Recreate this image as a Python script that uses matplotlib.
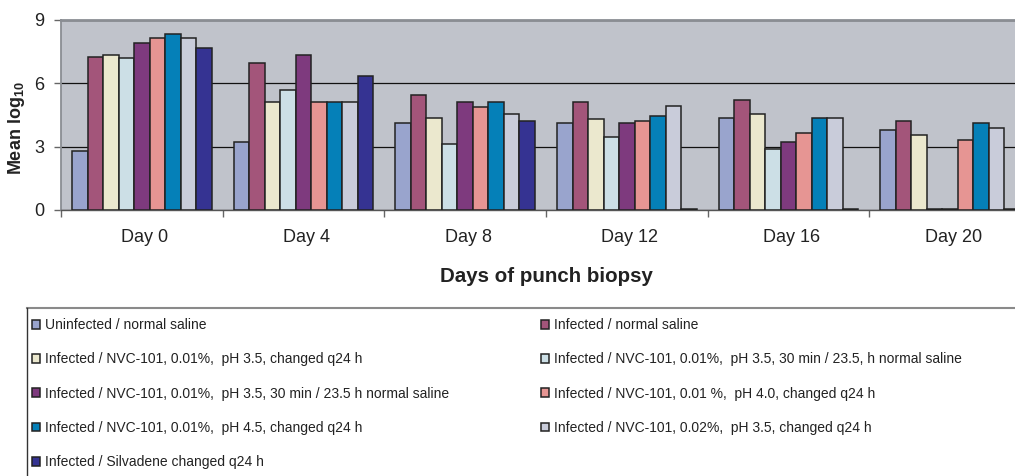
import matplotlib
matplotlib.use('Agg')
import matplotlib.pyplot as plt
import matplotlib.transforms as mtransforms
import numpy as np
from matplotlib.lines import Line2D

plt.rcParams['font.family'] = ['Liberation Sans', 'DejaVu Sans']
plt.rcParams['mathtext.fontset'] = 'custom'
plt.rcParams['mathtext.rm'] = 'Liberation Sans'
plt.rcParams['mathtext.bf'] = 'Liberation Sans:bold'

# ---------------- data ----------------
days = ['Day 0', 'Day 4', 'Day 8', 'Day 12', 'Day 16', 'Day 20']
series_labels = [
    'Uninfected / normal saline',
    'Infected / normal saline',
    'Infected / NVC-101, 0.01%,  pH 3.5, changed q24 h',
    'Infected / NVC-101, 0.01%,  pH 3.5, 30 min / 23.5, h normal saline',
    'Infected / NVC-101, 0.01%,  pH 3.5, 30 min / 23.5 h normal saline',
    'Infected / NVC-101, 0.01 %,  pH 4.0, changed q24 h',
    'Infected / NVC-101, 0.01%,  pH 4.5, changed q24 h',
    'Infected / NVC-101, 0.02%,  pH 3.5, changed q24 h',
    'Infected / Silvadene changed q24 h',
]
uninfected_saline = [2.80, 3.20, 4.12, 4.12, 4.37, 3.79]
infected_saline = [7.26, 6.94, 5.44, 5.10, 5.21, 4.20]
nvc_001_ph35_q24 = [7.34, 5.10, 4.37, 4.29, 4.53, 3.55]
nvc_001_ph35_30min_a = [7.18, 5.69, 3.14, 3.47, 2.88, 0.05]
nvc_001_ph35_30min_b = [7.92, 7.34, 5.10, 4.12, 3.20, 0.05]
nvc_001_ph40_q24 = [8.16, 5.10, 4.88, 4.20, 3.63, 3.30]
nvc_001_ph45_q24 = [8.34, 5.10, 5.10, 4.45, 4.37, 4.12]
nvc_002_ph35_q24 = [8.16, 5.10, 4.55, 4.94, 4.37, 3.88]
silvadene_q24 = [7.69, 6.35, 4.20, 0.05, 0.05, 0.05]
yticks = [0, 3, 6, 9]

series = [uninfected_saline, infected_saline, nvc_001_ph35_q24,
          nvc_001_ph35_30min_a, nvc_001_ph35_30min_b, nvc_001_ph40_q24,
          nvc_001_ph45_q24, nvc_002_ph35_q24, silvadene_q24]
colors = ['#99A4CD', '#A3557A', '#EBE8CE', '#CCDFE6', '#7E3A7E',
          '#E69593', '#0580B8', '#C9CCDA', '#353392']

# ---------------- figure ----------------
W, H = 1015, 476
fig = plt.figure(figsize=(W / 100, H / 100), dpi=100)
fig.patch.set_facecolor('white')

ax = fig.add_axes([61 / W, 1 - 210 / H, 970 / W, 190 / H])
ax.set_facecolor('#C0C3CB')
ax.set_xlim(-0.5, len(days) - 0.5)
ax.set_ylim(0, 9)

x = np.arange(len(days))
bw = 0.096
n = len(series)
containers = []
for j, (vals, col) in enumerate(zip(series, colors)):
    c = ax.bar(x + (j - (n - 1) / 2) * bw, vals, width=bw, color=col,
               edgecolor='#222222', linewidth=1.1, label=series_labels[j],
               zorder=3)
    containers.append(c)

ax.set_yticks(yticks)
ax.set_yticklabels([str(t) for t in yticks])
ax.yaxis.grid(True, color='#111111', linewidth=0.9)
ax.set_axisbelow(True)

ax.set_xticks(x)
ax.set_xticklabels(days)
ax.set_xticks(np.arange(len(days) + 1) - 0.5, minor=True)
ax.tick_params(axis='x', which='major', length=0, pad=14, labelsize=13,
               colors='#222222')
ax.tick_params(axis='x', which='minor', length=5, width=1, color='#666666')
ax.tick_params(axis='y', length=5, width=1, color='#666666', pad=7,
               labelsize=13, labelcolor='#222222')
offset = mtransforms.ScaledTranslation(3 / 100, 0, fig.dpi_scale_trans)
for lbl in ax.get_xticklabels():
    lbl.set_transform(lbl.get_transform() + offset)

for s in ['left', 'top']:
    ax.spines[s].set_color('#8A8D93')
ax.spines['left'].set_linewidth(1.3)
ax.spines['top'].set_linewidth(2.0)
ax.spines['bottom'].set_color('#555555')
ax.spines['bottom'].set_linewidth(1.0)
ax.spines['right'].set_visible(False)

fig.text(546 / W, 1 - 277 / H, 'Days of punch biopsy', ha='center',
         va='center', fontsize=14.8, fontweight='bold', color='#222222')
fig.text(17 / W, 1 - 128 / H, r'Mean log$_{\mathbf{10}}$', rotation=90,
         ha='center', va='center', fontsize=13, fontweight='bold',
         color='#222222')

# legend frame (extends past figure edge)
fig.add_artist(Line2D([27 / W, 1.05], [1 - 308 / H, 1 - 308 / H],
                      transform=fig.transFigure, color='#8A8A8A', lw=1.5))
fig.add_artist(Line2D([27 / W, 27 / W], [1 - 308 / H, -0.05],
                      transform=fig.transFigure, color='#333333', lw=1.0))

col1 = [0, 2, 4, 6, 8]
col2 = [1, 3, 5, 7]
common = dict(loc='upper left', frameon=False, fontsize=10,
              handlelength=0.6, handleheight=0.6, handletextpad=0.35,
              labelspacing=1.46, borderpad=0, borderaxespad=0,
              labelcolor='#222222')
fig.legend(handles=[containers[i] for i in col1],
           labels=[series_labels[i] for i in col1],
           bbox_to_anchor=(32 / W, 1 - 318 / H), **common)
fig.legend(handles=[containers[i] for i in col2],
           labels=[series_labels[i] for i in col2],
           bbox_to_anchor=(541 / W, 1 - 318 / H), **common)

fig.savefig('out.png', dpi=100)
